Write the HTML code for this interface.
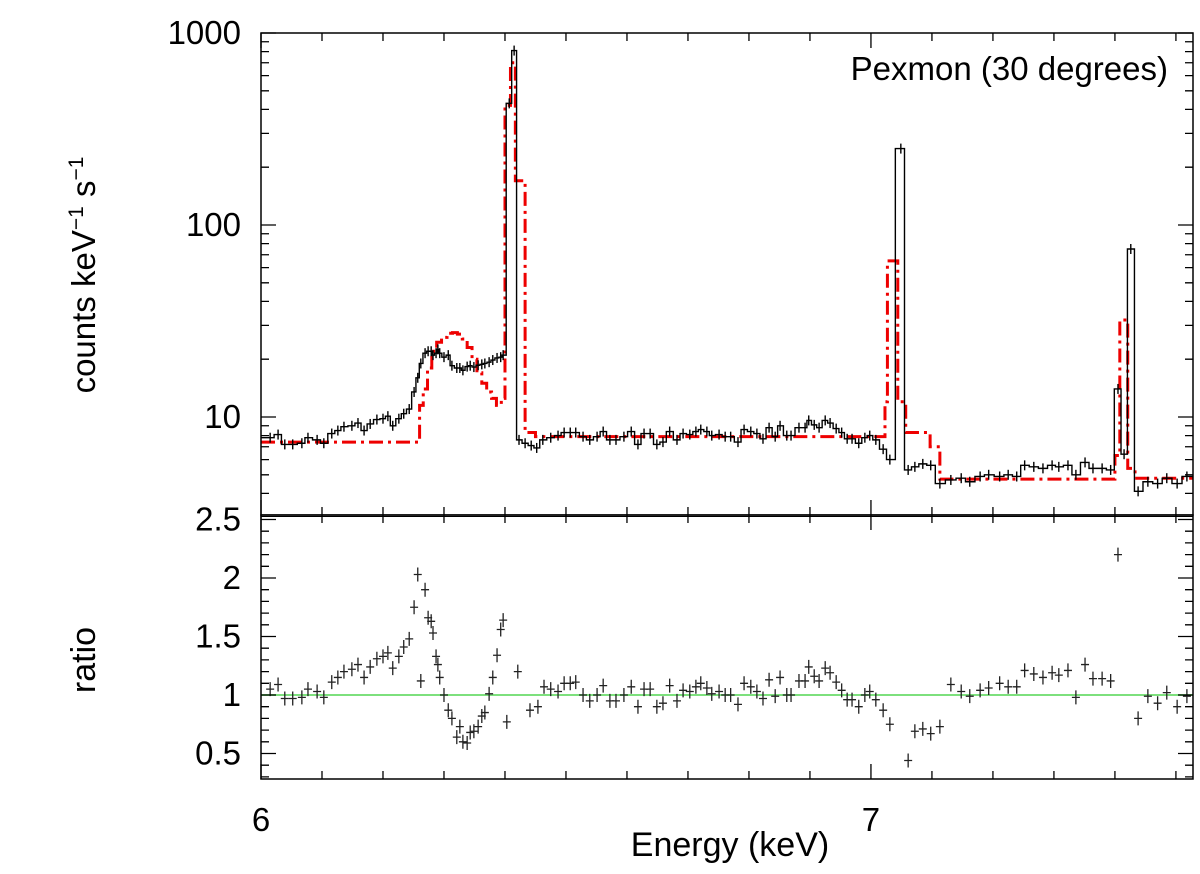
<!DOCTYPE html>
<html><head><meta charset="utf-8"><style>
body{margin:0;background:#fff}
svg text{font-family:"Liberation Sans",sans-serif;fill:#000}
</style></head><body>
<svg id="chart" width="1200" height="869" viewBox="0 0 1200 869" xmlns="http://www.w3.org/2000/svg">
<g id="marks"></g>
<g id="axes"></g>
</svg>
<script>
const specE=[6.015,6.028,6.039,6.052,6.067,6.077,6.092,6.103,6.116,6.126,6.136,6.149,6.159,6.169,6.179,6.190,6.200,6.208,6.216,6.226,6.234,6.243,6.251,6.257,6.262,6.269,6.274,6.279,6.282,6.287,6.290,6.293,6.300,6.307,6.313,6.321,6.326,6.331,6.338,6.343,6.349,6.356,6.362,6.367,6.374,6.380,6.387,6.393,6.397,6.407,6.415,6.423,6.433,6.443,6.452,6.462,6.475,6.487,6.497,6.507,6.516,6.528,6.539,6.551,6.561,6.572,6.582,6.595,6.607,6.618,6.628,6.638,6.649,6.659,6.670,6.682,6.692,6.703,6.713,6.721,6.731,6.739,6.751,6.761,6.770,6.782,6.792,6.803,6.813,6.823,6.833,6.843,6.851,6.862,6.869,6.882,6.892,6.898,6.907,6.915,6.925,6.933,6.943,6.952,6.961,6.969,6.980,6.990,6.998,7.008,7.020,7.031,7.049,7.061,7.072,7.085,7.098,7.113,7.131,7.148,7.162,7.179,7.193,7.211,7.225,7.239,7.252,7.267,7.282,7.297,7.308,7.323,7.336,7.351,7.364,7.379,7.393,7.405,7.415,7.426,7.438,7.454,7.470,7.485,7.502,7.518];
const specC=[7.8,8.1,7.2,7.2,7.3,7.8,7.6,7.3,8.2,8.5,8.9,9.0,9.3,8.5,9.2,9.7,9.8,10.1,9.0,9.8,10.4,11.0,13.5,16,19,21.5,22,22,21,21.5,22.5,21.5,20.5,21,18.5,18,18,17.5,18.3,18.5,18.2,18.6,18.8,19,19.3,19.8,20.3,20.5,21,430,810,7.6,7.3,7.1,6.9,7.6,7.8,8.0,8.3,8.3,8.3,7.9,7.6,7.9,8.4,7.6,7.6,7.9,8.4,7.2,8.2,8.2,7.2,7.4,8.4,7.6,8.2,8.1,8.4,8.6,8.4,8.0,8.1,7.9,7.9,7.4,8.6,8.4,8.2,7.7,8.8,7.9,9.0,8.0,8.0,8.8,8.8,9.6,9.1,8.8,9.6,9.3,8.7,8.3,7.7,7.7,7.3,7.8,8.0,7.6,6.8,6.0,250,5.3,5.5,5.7,5.6,4.5,4.7,4.8,4.6,4.9,5.0,4.9,5.0,4.9,5.6,5.5,5.4,5.6,5.5,5.6,5.0,5.8,5.4,5.4,5.3,14,6.4,75,4.1,4.6,4.5,4.8,4.5,4.9];
const modelE=[6.000,6.260,6.266,6.273,6.280,6.288,6.296,6.305,6.314,6.322,6.330,6.338,6.346,6.354,6.362,6.370,6.378,6.386,6.394,6.400,6.409,6.417,6.433,6.450,7.023,7.027,7.044,7.057,7.097,7.113,7.400,7.408,7.421,7.433,7.528];
const modelV=[7.4,11.5,14,18,22,24.5,26,27.3,27.5,27,25.5,23,20,17,15,13.5,12.5,11.5,12.5,420,700,170,8.3,7.9,12,65,12,8.3,7.0,4.75,6.3,32,5.4,4.8];
const ratioE=[6.015,6.028,6.039,6.052,6.067,6.077,6.092,6.103,6.116,6.126,6.136,6.149,6.159,6.169,6.179,6.190,6.200,6.208,6.216,6.226,6.234,6.243,6.251,6.257,6.262,6.269,6.274,6.279,6.282,6.287,6.290,6.293,6.300,6.307,6.313,6.321,6.326,6.331,6.338,6.343,6.349,6.356,6.362,6.367,6.374,6.380,6.387,6.393,6.397,6.403,6.421,6.441,6.454,6.464,6.475,6.487,6.497,6.507,6.516,6.528,6.539,6.551,6.561,6.572,6.582,6.595,6.607,6.618,6.628,6.638,6.649,6.659,6.670,6.682,6.692,6.703,6.713,6.721,6.731,6.739,6.751,6.761,6.770,6.782,6.792,6.803,6.813,6.823,6.833,6.843,6.851,6.862,6.869,6.882,6.892,6.898,6.907,6.915,6.925,6.933,6.943,6.952,6.961,6.969,6.980,6.990,6.998,7.008,7.020,7.031,7.061,7.072,7.085,7.098,7.113,7.131,7.148,7.162,7.179,7.193,7.211,7.225,7.239,7.252,7.267,7.282,7.297,7.308,7.323,7.336,7.351,7.364,7.379,7.393,7.405,7.438,7.454,7.470,7.485,7.502,7.518];
const ratioR=[1.05,1.09,0.97,0.97,0.98,1.05,1.03,0.98,1.11,1.15,1.20,1.22,1.26,1.15,1.24,1.31,1.33,1.36,1.23,1.33,1.41,1.48,1.75,2.03,1.12,1.90,1.66,1.63,1.53,1.33,1.26,1.15,1.00,0.87,0.80,0.64,0.73,0.60,0.59,0.68,0.69,0.73,0.82,0.85,1.01,1.15,1.34,1.56,1.64,0.77,1.20,0.87,0.90,1.07,1.05,1.03,1.10,1.10,1.11,1.00,0.95,1.00,1.08,0.95,0.95,1.00,1.07,0.90,1.05,1.05,0.90,0.93,1.08,0.95,1.04,1.03,1.07,1.10,1.06,1.01,1.03,1.00,1.00,0.92,1.10,1.07,1.03,0.97,1.13,0.99,1.15,1.00,1.00,1.12,1.12,1.24,1.16,1.12,1.23,1.19,1.11,1.04,0.96,0.96,0.90,1.00,1.03,0.96,0.87,0.75,0.44,0.69,0.71,0.67,0.73,1.09,1.03,0.99,1.04,1.06,1.10,1.07,1.07,1.21,1.18,1.15,1.19,1.17,1.21,0.98,1.26,1.14,1.14,1.12,2.20,0.80,0.99,0.93,1.02,0.90,0.99];
const logTickLabels=["10","100","1000"];
const ratioTickLabels=["0.5","1","1.5","2","2.5"];
const xTickLabels=["6","7"];

const NS="http://www.w3.org/2000/svg";
const L=261,R=1193,T=33,MID=515,B=779;
const xMin=6,xMax=7.528;
const X=e=>L+(e-xMin)/(xMax-xMin)*(R-L);
const YL=v=>417-(Math.log10(v)-1)*192;
const YR=r=>695-(r-1)*117;
const marks=document.getElementById('marks'),axes=document.getElementById('axes');
function mk(tag,attrs,parent){const el=document.createElementNS(NS,tag);for(const k in attrs)el.setAttribute(k,attrs[k]);parent.appendChild(el);return el;}

const defs=mk('defs',{},marks);
const c1=mk('clipPath',{id:'ctop'},defs);mk('rect',{x:L,y:T,width:R-L,height:MID-T},c1);
const c2=mk('clipPath',{id:'cbot'},defs);mk('rect',{x:L,y:MID,width:R-L,height:B-MID},c2);
const gTop=mk('g',{'clip-path':'url(#ctop)'},marks);
const gBot=mk('g',{'clip-path':'url(#cbot)'},marks);

let d='';
for(let i=0;i<modelV.length;i++){const x0=X(modelE[i]),x1=X(modelE[i+1]),y=YL(modelV[i]);d+=(i===0?'M':'L')+x0+','+y+'L'+x1+','+y;}
const model=mk('path',{d:d,fill:'none',stroke:'#e00','stroke-width':3,'stroke-dasharray':'14,5,3,5'},gTop);



let ds='';
for(let i=0;i<specE.length;i++){
 const lo=i===0?xMin:(specE[i-1]+specE[i])/2, hi=i===specE.length-1?xMax:(specE[i]+specE[i+1])/2;
 const y=YL(specC[i]);ds+=(i===0?'M':'L')+X(lo)+','+y+'L'+X(hi)+','+y;
 const eb=mk('path',{d:'M'+X(specE[i])+','+(y-5)+'L'+X(specE[i])+','+(y+5),stroke:'#000','stroke-width':1.4},gTop);
 
 
}
const sp=mk('path',{d:ds,fill:'none',stroke:'#000','stroke-width':1.4},gTop);



const one=mk('line',{x1:L,x2:R,y1:YR(1),y2:YR(1),stroke:'#7de07d','stroke-width':2},gBot);


for(let i=0;i<ratioE.length;i++){
 const x=X(ratioE[i]),y=YR(ratioR[i]);
 const p=mk('path',{d:'M'+(x-4)+','+y+'L'+(x+4)+','+y+'M'+x+','+(y-7)+'L'+x+','+(y+7),stroke:'#222','stroke-width':1.3},gBot);
 
 
}

const f1=mk('rect',{x:L,y:T,width:R-L,height:MID-T,fill:'none',stroke:'#000','stroke-width':1.5},axes);


const f2=mk('rect',{x:L,y:MID,width:R-L,height:B-MID,fill:'none',stroke:'#000','stroke-width':1.5},axes);


mk('line',{x1:L,x2:R,y1:MID+1.5,y2:MID+1.5,stroke:'#000','stroke-width':1},axes);

let tk='';
for(let dec=1;dec<=1000;dec*=10){for(let m=1;m<10;m++){const v=dec*m;if(v>1000)break;const y=YL(v);if(y>MID-1)continue;const len=m===1?15:8;tk+=`M${L},${y}L${L+len},${y}M${R},${y}L${R-len},${y}`;}}
for(let m=4;m<10;m++){const y=YL(m);if(y<MID-1)tk+=`M${L},${y}L${L+8},${y}M${R},${y}L${R-8},${y}`;}
for(let k=3;k<=25;k++){const r=k/10,y=YR(r);if(y<MID+2||y>B-1)continue;const len=(k%5===0)?15:8;tk+=`M${L},${y}L${L+len},${y}M${R},${y}L${R-len},${y}`;}
for(let k=60;k<=75;k++){const e=k/10,x=X(e);const len=(k%10===0)?15:8;tk+=`M${x},${T}L${x},${T+len}M${x},${MID}L${x},${MID-len}M${x},${MID}L${x},${MID+len}M${x},${B}L${x},${B-len}`;}
const ticks=mk('path',{d:tk,stroke:'#000','stroke-width':1.3,fill:'none'},axes);



function txt(s,x,y,anchor,name,size,rot){const t=mk('text',{x:x,y:y,'text-anchor':anchor,'font-size':size||33},axes);if(rot)t.setAttribute('transform',`rotate(-90 ${x} ${y})`);t.textContent=s;return t;}
logTickLabels.forEach((s,i)=>txt(s,241,YL(Math.pow(10,i+1))+11,'end','y-tick-label-'+s));
ratioTickLabels.forEach((s,i)=>txt(s,241,YR(0.5+i*0.5)+11,'end','ratio-tick-label-'+s));
xTickLabels.forEach((s,i)=>txt(s,X(6+i),831,'middle','x-tick-label-'+s));
txt('Energy (keV)',730,856,'middle','x-axis-title',34);
txt('ratio',95,660,'middle','ratio-axis-title',34,true);
txt('Pexmon (30 degrees)',1168,80,'end','panel-label',33);
const yt=mk('text',{x:95,y:275,'text-anchor':'middle','font-size':33,transform:'rotate(-90 95 275)'},axes);
yt.innerHTML='counts keV<tspan font-size="21" dy="-12">−1</tspan><tspan dy="12"> s</tspan><tspan font-size="21" dy="-12">−1</tspan>';


</script>
</body></html>
